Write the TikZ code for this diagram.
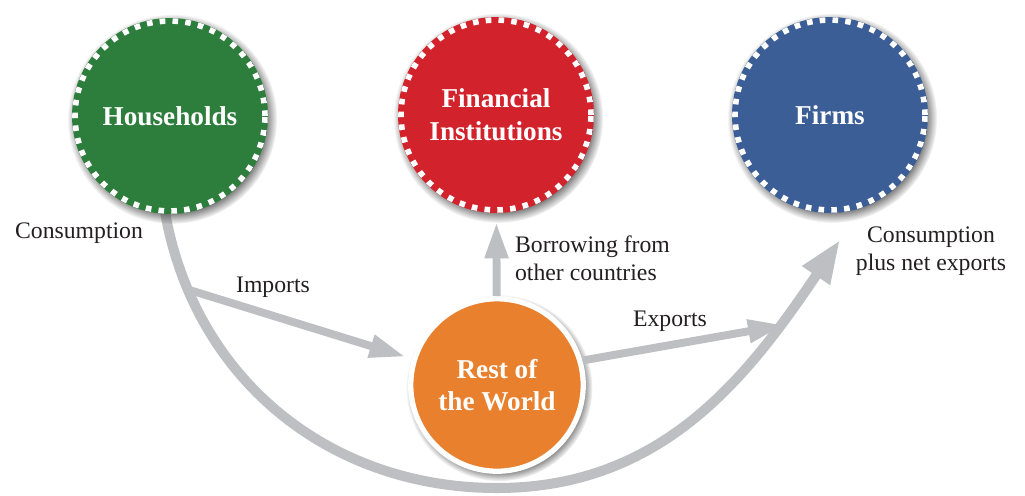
\documentclass[tikz,border=0pt]{standalone}
\usepackage{fontspec}
\setmainfont{Liberation Serif}
\usetikzlibrary{arrows.meta,shadows}
\definecolor{hhgreen}{RGB}{45,125,60}
\definecolor{finred}{RGB}{210,35,45}
\definecolor{firmblue}{RGB}{60,94,150}
\definecolor{roworange}{RGB}{232,128,46}
\definecolor{flowgray}{RGB}{190,191,195}
\definecolor{ink}{RGB}{35,31,32}
\begin{document}
\begin{tikzpicture}[x=0.02cm, y=0.02cm,
  hub/.style={circle, inner sep=0pt, minimum size=3.92cm, fill=#1,
    path picture={\draw[white, line width=3.2pt, dash pattern=on 3.2pt off 4.1pt]
      (path picture bounding box.center) circle[radius=1.9cm];},
    circular drop shadow={shadow xshift=1.2pt, shadow yshift=-1.6pt, shadow scale=1.07, fill=black!70},
    text=white, align=center, font=\fontsize{15.5}{18.8}\selectfont\bfseries},
  world/.style={circle, inner sep=0pt, minimum size=3.45cm, fill=roworange, draw=white,
    line width=3pt,
    circular drop shadow={shadow xshift=1.2pt, shadow yshift=-1.6pt, shadow scale=1.08, fill=black!70},
    text=white, align=center, font=\fontsize{15.5}{18.3}\selectfont\bfseries},
  flow/.style={draw=flowgray, line width=4.5pt, -{Triangle[length=0.72cm, width=0.44cm]}},
  lab/.style={text=ink, inner sep=1pt, font=\fontsize{13.5}{15.9}\selectfont}]
\useasboundingbox (0,0) rectangle (1025,495);
\coordinate (low) at (497,7);
\coordinate (cpx) at (840,255);
\coordinate (expt) at (784,170);
\draw[flow, line width=5.7pt, -{Triangle[length=0.86cm, width=0.62cm]}]
  (165,283) to[out=-80, in=180] coordinate[pos=0.165] (branch) (low)
  to[out=0, in=236] (cpx);
\node[hub=hhgreen] (hh) at (170,379) {Households};
\node[hub=finred] (fin) at (496,380) {Financial\\Institutions};
\node[hub=firmblue] (firm) at (830,380) {Firms};
\node[world] (row) at (497,110) {Rest of\\the World};
\draw[flow, shorten >=0.14cm] (branch) -- (row);
\draw[flow, shorten >=0.18cm] (row) -- (fin);
\draw[flow] (row.16) -- (expt);
\node[lab] at (79,262) {Consumption};
\node[lab] at (273,208) {Imports};
\node[lab, anchor=west, align=left] at (513,237) {Borrowing from\\other countries};
\node[lab] at (670,174) {Exports};
\node[lab, align=center] at (931,244) {Consumption\\plus net exports};
\end{tikzpicture}
\end{document}
